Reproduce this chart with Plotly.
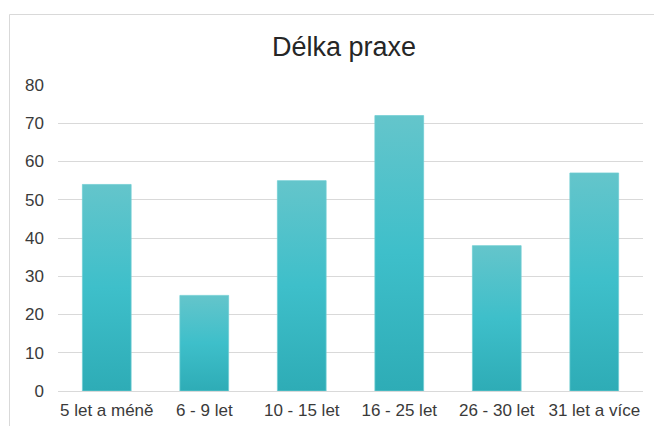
import plotly.graph_objects as go

# Respondents by length of teaching practice
categories = ["5 let a méně", "6 - 9 let", "10 - 15 let", "16 - 25 let", "26 - 30 let", "31 let a více"]
counts = [54, 25, 55, 72, 38, 57]
y_ticks = [0, 10, 20, 30, 40, 50, 60, 70, 80]

FONT = "Liberation Sans, Arial, sans-serif"
GRID = "#d9d9d9"

fig = go.Figure(
    go.Bar(
        x=categories,
        y=counts,
        marker=dict(color="#3ebfca", line=dict(color="#6fcdd3", width=0.75)),
        hoverinfo="x+y",
    )
)

fig.update_layout(
    width=654,
    height=426,
    margin=dict(l=58, r=11, t=85, b=35, autoexpand=False),
    paper_bgcolor="white",
    plot_bgcolor="white",
    bargap=0.5,
    showlegend=False,
    font=dict(family=FONT, size=17, color="#3a3a3a"),
    title=dict(
        text="Délka praxe",
        font=dict(family=FONT, size=27, color="#262626"),
        x=344 / 654,
        xref="container",
        xanchor="center",
        y=1 - 47 / 426,
        yref="container",
        yanchor="middle",
    ),
    xaxis=dict(
        showgrid=False,
        showline=True,
        linecolor=GRID,
        linewidth=1,
        ticks="",
        automargin=False,
        ticklabelstandoff=4,
        tickfont=dict(size=17, color="#3a3a3a"),
    ),
    yaxis=dict(
        range=[0, 80],
        tickvals=y_ticks,
        showgrid=True,
        gridcolor=GRID,
        gridwidth=1,
        zeroline=False,
        showline=False,
        ticks="",
        automargin=False,
        ticklabelstandoff=13,
        tickfont=dict(size=17, color="#3a3a3a"),
    ),
    shapes=[
        dict(
            type="rect",
            xref="paper",
            yref="paper",
            x0=(9.5 - 58) / 585,
            x1=1.05,
            y0=-0.2,
            y1=1 + (85 - 14.5) / 306,
            line=dict(color=GRID, width=1),
            fillcolor="rgba(0,0,0,0)",
            layer="below",
        )
    ],
)

# Vertical gradient fill for the bars (light top, saturated middle, deeper bottom)
gradient_js = """
var gd = document.getElementById('{plot_id}');
function applyBarGradient() {
  var svg = gd.querySelector('svg.main-svg');
  if (!svg) return;
  var ns = 'http://www.w3.org/2000/svg';
  if (!document.getElementById('barGrad')) {
    var defs = svg.querySelector('defs');
    if (!defs) { defs = document.createElementNS(ns, 'defs'); svg.insertBefore(defs, svg.firstChild); }
    var g = document.createElementNS(ns, 'linearGradient');
    g.setAttribute('id', 'barGrad');
    g.setAttribute('x1', '0'); g.setAttribute('y1', '0');
    g.setAttribute('x2', '0'); g.setAttribute('y2', '1');
    [['0', '#64c5cb'], ['0.5', '#3ebfca'], ['1', '#2eacb6']].forEach(function (s) {
      var st = document.createElementNS(ns, 'stop');
      st.setAttribute('offset', s[0]);
      st.setAttribute('stop-color', s[1]);
      g.appendChild(st);
    });
    defs.appendChild(g);
  }
  gd.querySelectorAll('.bars .point path').forEach(function (p) {
    p.style.fill = 'url(#barGrad)';
  });
}
applyBarGradient();
gd.on('plotly_afterplot', applyBarGradient);
"""

fig.write_html("out.html", post_script=gradient_js)
